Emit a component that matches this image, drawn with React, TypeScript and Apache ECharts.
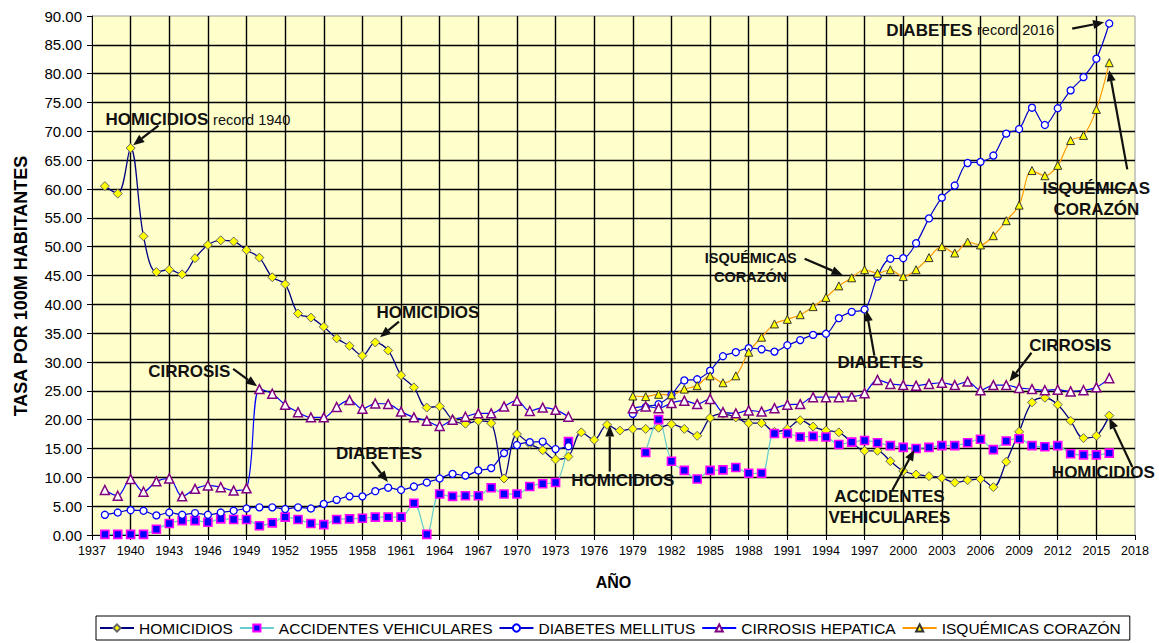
import React, { useEffect, useRef } from "react";
import * as echarts from "echarts";

const FIRST_YEAR = 1937;
const LAST_YEAR = 2018;
const years: string[] = [];
for (let y = FIRST_YEAR; y <= LAST_YEAR; y++) years.push(String(y));

const yTicks = { min: 0, max: 90, step: 5 };

// HOMICIDIOS 1938-2016
const homicidiosStart = 1938;
const homicidios = [
  60.5, 59.2, 67.1, 51.8, 45.6, 46.0, 45.2, 48.0, 50.3, 51.1, 50.9, 49.4, 48.1, 44.7, 43.5, 38.4,
  37.7, 36.1, 34.1, 32.8, 31.1, 33.4, 32.0, 27.7, 25.6, 22.1, 22.3, 20.0, 19.3, 19.8, 19.4, 9.8,
  17.5, 15.8, 14.7, 13.1, 13.6, 17.8, 16.5, 19.1, 18.1, 18.4, 18.4, 18.6, 19.2, 18.4, 17.2, 20.3,
  21.0, 20.4, 19.4, 19.4, 17.9, 18.4, 19.9, 18.8, 18.1, 17.8, 16.1, 14.6, 14.6, 12.8, 11.1, 10.5,
  10.2, 9.9, 9.1, 9.5, 9.7, 8.3, 12.7, 17.9, 23.0, 23.8, 22.6, 19.8, 16.8, 17.2, 20.7,
];

// ACCIDENTES VEHICULARES 1938-2016 (gap 1975-1979)
const accidentesStart = 1938;
const accidentes = [
  0.1, 0.1, 0.1, 0.1, 1.0, 2.0, 2.5, 2.5, 2.2, 2.8, 2.7, 2.7, 1.6, 2.1, 3.1, 2.7,
  2.0, 1.8, 2.7, 2.8, 2.9, 3.1, 3.1, 3.1, 5.5, 0.1, 7.1, 6.7, 6.8, 6.8, 8.2, 7.1,
  7.1, 8.4, 8.9, 9.1, 16.2, null, null, null, null, null, 14.3, 20.0, 12.8, 11.2, 9.7, 11.2,
  11.3, 11.7, 10.7, 10.7, 17.6, 17.6, 17.0, 17.1, 17.0, 15.7, 16.1, 16.4, 16.0, 15.5, 15.2, 15.0,
  15.2, 15.5, 15.5, 16.0, 16.6, 14.8, 16.3, 16.7, 15.5, 15.3, 15.5, 14.1, 13.9, 13.9, 14.2,
];

// DIABETES MELLITUS 1938-2016 (gap 1975-1978)
const diabetesStart = 1938;
const diabetes = [
  3.5, 3.9, 4.3, 4.2, 3.4, 3.9, 3.5, 3.8, 3.5, 3.9, 4.2, 4.6, 4.8, 4.8, 4.5, 4.8,
  4.6, 5.4, 6.1, 6.7, 6.7, 7.6, 8.2, 7.8, 8.4, 9.1, 9.8, 10.6, 10.3, 11.2, 11.6, 14.2,
  15.6, 16.1, 16.2, 14.9, 15.4, null, null, null, null, 21.0, 22.2, 22.7, 24.3, 26.8, 27.0, 28.5,
  31.0, 31.7, 32.4, 32.2, 31.8, 32.9, 33.8, 34.7, 34.9, 37.6, 38.7, 39.1, 44.8, 47.9, 48.0, 50.6,
  54.9, 58.5, 60.6, 64.5, 64.7, 65.8, 69.6, 70.4, 74.1, 71.1, 74.0, 77.1, 79.4, 82.6, 88.7,
];

// CIRROSIS HEPATICA 1938-2016 (gap 1975-1978)
const cirrosisStart = 1938;
const cirrosis = [
  7.8, 6.8, 9.7, 7.5, 9.3, 9.8, 6.7, 8.0, 8.6, 8.3, 7.7, 8.1, 25.3, 24.5, 22.6, 21.3,
  20.4, 20.4, 22.2, 23.4, 21.9, 22.8, 22.7, 21.4, 20.4, 19.8, 18.9, 20.0, 20.5, 21.1, 21.1, 22.3,
  23.3, 21.5, 22.1, 21.7, 20.5, null, null, null, null, 22.0, 22.3, 22.0, 22.9, 23.3, 22.7, 23.6,
  21.3, 21.1, 21.6, 21.4, 22.0, 22.6, 22.7, 23.9, 23.9, 23.9, 24.0, 24.6, 26.9, 26.2, 26.0, 25.9,
  26.2, 26.4, 26.0, 26.6, 25.1, 26.0, 26.0, 25.5, 25.3, 25.1, 25.2, 24.9, 25.1, 25.6, 27.2,
];

// ISQUÉMICAS CORAZÓN 1979-2016
const isquemicasStart = 1979;
const isquemicas = [
  24.1, 24.0, 24.4, 24.3, 25.3, 25.9, 27.6, 26.4, 27.6, 31.7, 34.3, 36.6, 37.4, 38.2, 39.6, 41.2,
  43.2, 44.6, 46.0, 45.4, 46.0, 44.8, 46.0, 48.1, 50.0, 48.9, 50.8, 50.3, 51.9, 54.5, 57.2, 63.2,
  62.3, 64.1, 68.4, 69.3, 73.8, 81.9,
];

const seriesNames = [
  "HOMICIDIOS",
  "ACCIDENTES VEHICULARES",
  "DIABETES MELLITUS",
  "CIRROSIS HEPATICA",
  "ISQUÉMICAS CORAZÓN",
];

// annotations in data units: [year, value]
const annotations = [
  { text: "{b|HOMICIDIOS} {n|record 1940}", at: [1938.04, 72.0], align: "left", size: 17, from: [1942.16, 71.0], to: [1940.2, 67.6] },
  { text: "CIRROSIS", at: [1944.56, 28.3], align: "center", size: 17, from: [1947.96, 28.8], to: [1949.82, 25.8] },
  { text: "HOMICIDIOS", at: [1963.09, 38.5], align: "center", size: 17, from: [1960.84, 37.0], to: [1959.37, 34.3] },
  { text: "DIABETES", at: [1959.29, 14.2], align: "center", size: 17, from: [1958.74, 12.7], to: [1959.98, 9.2] },
  { text: "HOMICIDIOS", at: [1978.22, 9.4], align: "center", size: 17, from: [1977.21, 11.0], to: [1977.21, 19.0] },
  { text: "ISQUÉMICAS\nCORAZÓN", at: [1988.15, 46.4], align: "center", size: 14.5, from: [1992.34, 47.9], to: [1995.29, 45.1] },
  { text: "DIABETES", at: [1998.23, 29.9], align: "center", size: 17, from: [1997.76, 31.1], to: [1997.14, 39.0] },
  { text: "CIRROSIS", at: [2012.98, 32.8], align: "center", size: 17, from: [2009.96, 31.6], to: [2008.25, 26.6] },
  { text: "ACCIDENTES\nVEHICULARES", at: [1998.93, 4.9], align: "center", size: 17, from: [1999.16, 7.8], to: [2000.87, 14.8] },
  { text: "HOMICIDIOS", at: [2015.54, 10.8], align: "center", size: 17, from: [2017.79, 11.8], to: [2016.0, 20.3] },
  { text: "{b|DIABETES} {n|record 2016}", at: [1998.69, 87.5], align: "left", size: 17, from: [2013.12, 87.8], to: [2015.6, 88.9] },
  { text: "ISQUÉMICAS\nCORAZÓN", at: [2015.0, 58.2], align: "center", size: 17, from: [2017.4, 63.4], to: [2016.0, 80.6] },
];

const FONT = '"Liberation Sans", Arial, sans-serif';

function place(start: number, values: (number | null)[]) {
  const out: (number | null)[] = years.map(() => null);
  values.forEach((v, i) => {
    out[start - FIRST_YEAR + i] = v;
  });
  return out;
}

function arrowEls(from: number[], to: number[]) {
  const dx = to[0] - from[0];
  const dy = to[1] - from[1];
  const len = Math.hypot(dx, dy) || 1;
  const ux = dx / len;
  const uy = dy / len;
  const hl = 11;
  const hw = 4.5;
  const bx = to[0] - ux * hl;
  const by = to[1] - uy * hl;
  return [
    {
      type: "line",
      silent: true,
      shape: { x1: from[0], y1: from[1], x2: bx, y2: by },
      style: { stroke: "#111", lineWidth: 2.2 },
      z: 100,
    },
    {
      type: "polygon",
      silent: true,
      shape: { points: [[to[0], to[1]], [bx - uy * hw, by + ux * hw], [bx + uy * hw, by - ux * hw]] },
      style: { fill: "#111" },
      z: 100,
    },
  ];
}

export default function App() {
  const ref = useRef<HTMLDivElement>(null);

  useEffect(() => {
    if (!ref.current) return;
    const chart = echarts.init(ref.current, undefined, { renderer: "svg" });

    const lineSeries = (name: string, data: any[], lineColor: string, symbol: string, size: number, fill: string, border: string, bw: number, lw: number) => ({
      name,
      type: "line",
      data,
      smooth: 0.35,
      connectNulls: false,
      symbol,
      symbolSize: size,
      showAllSymbol: true,
      lineStyle: { color: lineColor, width: lw },
      itemStyle: { color: fill, borderColor: border, borderWidth: bw },
      emphasis: { disabled: true },
    });

    const option: any = {
      animation: false,
      backgroundColor: "#ffffff",
      textStyle: { fontFamily: FONT },
      grid: {
        left: 92,
        right: 24,
        top: 16,
        bottom: 108,
        show: true,
        backgroundColor: "#FFFFCC",
        borderColor: "#9a9a9a",
        borderWidth: 1,
      },
      legend: {
        data: seriesNames,
        top: 616,
        left: 96,
        itemGap: 6,
        itemWidth: 34,
        itemHeight: 9,
        padding: [4, 9, 4, 3],
        borderColor: "#000",
        borderWidth: 1,
        textStyle: { fontSize: 15.5, color: "#000", fontFamily: FONT },
      },
      xAxis: {
        type: "category",
        data: years,
        boundaryGap: false,
        axisLine: { show: true, lineStyle: { color: "#000", width: 1 } },
        axisTick: { show: true, interval: 2, length: 5, lineStyle: { color: "#000" } },
        axisLabel: { interval: 2, fontSize: 12.5, color: "#000", margin: 9, fontFamily: FONT },
        splitLine: { show: true, interval: 2, showMinLine: false, showMaxLine: false, lineStyle: { color: "#000", width: 1.4 } },
      },
      yAxis: {
        type: "value",
        min: yTicks.min,
        max: yTicks.max,
        interval: yTicks.step,
        axisLine: { show: true, lineStyle: { color: "#000", width: 1 } },
        axisTick: { show: true, length: 5, lineStyle: { color: "#000" } },
        axisLabel: { fontSize: 15, color: "#000", margin: 10, fontFamily: FONT, formatter: (v: number) => v.toFixed(2) },
        splitLine: { show: true, showMinLine: false, showMaxLine: false, lineStyle: { color: "#000", width: 1.4 } },
      },
      series: [
        lineSeries(seriesNames[0], place(homicidiosStart, homicidios), "#000080", "diamond", 9, "#FFFF00", "#666666", 1, 1.3),
        lineSeries(seriesNames[1], place(accidentesStart, accidentes), "#66CCCC", "rect", 8, "#0000FF", "#FF00FF", 1.6, 1.2),
        lineSeries(seriesNames[2], place(diabetesStart, diabetes), "#0000CC", "circle", 7, "#FFFFFF", "#0000FF", 1.3, 1.2),
        lineSeries(seriesNames[3], place(cirrosisStart, cirrosis), "#0000FF", "triangle", 9, "#FFFFFF", "#800080", 1.5, 1.2),
        lineSeries(seriesNames[4], place(isquemicasStart, isquemicas), "#FF9900", "triangle", 8, "#FFFF00", "#333333", 1, 1.2),
      ],
    };

    chart.setOption(option);

    const p0 = chart.convertToPixel({ xAxisIndex: 0, yAxisIndex: 0 }, [String(FIRST_YEAR), yTicks.min]) as number[];
    const p1 = chart.convertToPixel({ xAxisIndex: 0, yAxisIndex: 0 }, [String(LAST_YEAR), yTicks.max]) as number[];
    const px = (d: number[]) => [
      p0[0] + ((d[0] - FIRST_YEAR) / (LAST_YEAR - FIRST_YEAR)) * (p1[0] - p0[0]),
      p0[1] + ((d[1] - yTicks.min) / (yTicks.max - yTicks.min)) * (p1[1] - p0[1]),
    ];

    const graphics: any[] = [];
    annotations.forEach((a) => {
      const pos = px(a.at);
      graphics.push({
        type: "text",
        silent: true,
        x: pos[0],
        y: pos[1],
        z: 101,
        style: {
          text: a.text,
          fill: "#111",
          font: `bold ${a.size}px ${FONT}`,
          fontWeight: "bold",
          fontSize: a.size,
          fontFamily: FONT,
          align: a.align,
          verticalAlign: "middle",
          lineHeight: a.size + 4,
          rich: {
            b: { fontWeight: "bold", fontSize: 17, fontFamily: FONT, fill: "#111" },
            n: { fontWeight: "normal", fontSize: 14.5, fontFamily: FONT, fill: "#111" },
          },
        },
      });
      graphics.push(...arrowEls(px(a.from), px(a.to)));
    });

    // axis titles
    graphics.push({
      type: "text",
      silent: true,
      x: 21,
      y: 286,
      rotation: Math.PI / 2,
      style: {
        text: "TASA POR 100M HABITANTES",
        fill: "#000",
        fontWeight: "bold",
        fontSize: 18,
        fontFamily: FONT,
        align: "center",
        verticalAlign: "middle",
      },
    });
    graphics.push({
      type: "text",
      silent: true,
      x: (p0[0] + p1[0]) / 2,
      y: 582,
      style: {
        text: "AÑO",
        fill: "#000",
        fontWeight: "bold",
        fontSize: 16,
        fontFamily: FONT,
        align: "center",
        verticalAlign: "middle",
      },
    });

    chart.setOption({ graphic: graphics });

    return () => chart.dispose();
  }, []);

  return <div ref={ref} style={{ position: "fixed", left: 0, top: 0, width: 1159, height: 643 }} />;
}
